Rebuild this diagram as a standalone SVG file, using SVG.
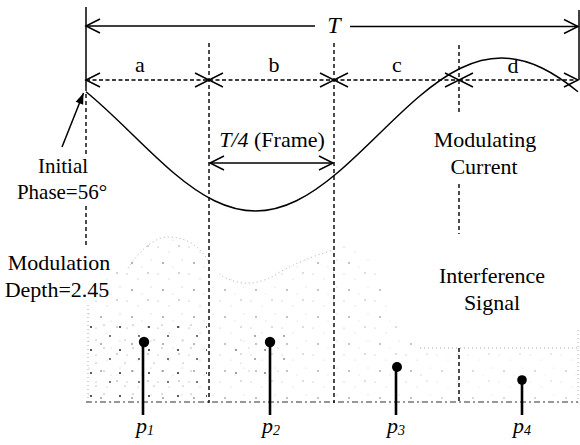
<svg xmlns="http://www.w3.org/2000/svg" width="580" height="445" viewBox="0 0 580 445">
<style>
text{font-family:"Liberation Serif","Times New Roman",serif;fill:#000}
.t{font-size:22px}
.s{font-size:21px}
.i{font-style:italic}
.dv{stroke:#000;stroke-width:1.4;stroke-dasharray:4 3;fill:none}
.dh{stroke:#000;stroke-width:1.3;stroke-dasharray:4 2.5;fill:none;marker-start:url(#oa);marker-end:url(#oa)}
.sol{stroke:#000;stroke-width:1.5;fill:none}
.env{stroke:#aaa;stroke-width:1;stroke-dasharray:1 3;fill:none}
.stem{stroke:#000;stroke-width:2.6}
</style>
<defs>
<marker id="oa" markerUnits="userSpaceOnUse" viewBox="-16 -9 18 18" refX="0" refY="0" markerWidth="18" markerHeight="18" orient="auto-start-reverse">
<path d="M-14,-7 L0,0 L-14,7" fill="none" stroke="#000" stroke-width="1.5" stroke-dasharray="none"/>
</marker>
<marker id="fa" markerUnits="userSpaceOnUse" viewBox="-12 -6 14 12" refX="0" refY="0" markerWidth="14" markerHeight="12" orient="auto">
<path d="M-11,-4 L0,0 L-11,4 Z" fill="#000" stroke="none"/>
</marker>
<pattern id="sp" width="31" height="27" patternUnits="userSpaceOnUse">
<circle cx="3" cy="4" r="0.6" fill="#999"/><circle cx="14" cy="9" r="0.5" fill="#aaa"/><circle cx="24" cy="3" r="0.7" fill="#888"/><circle cx="27" cy="17" r="0.5" fill="#aaa"/><circle cx="8" cy="20" r="0.8" fill="#555"/><circle cx="18" cy="24" r="0.5" fill="#bbb"/>
</pattern>
<pattern id="sp2" width="29" height="23" patternUnits="userSpaceOnUse">
<circle cx="4" cy="5" r="1" fill="#222"/><circle cx="17" cy="3" r="0.6" fill="#666"/><circle cx="23" cy="14" r="0.9" fill="#333"/><circle cx="9" cy="18" r="0.6" fill="#777"/>
</pattern>
</defs>
<rect width="580" height="445" fill="#fff"/>
<g id="interference-signal">
<path d="M88,403 L88,300 Q105,275 128,266 Q148,236 170,237 Q195,238 209,262 L209,403 Z" fill="url(#sp)"/>
<rect x="90" y="322" width="117" height="78" fill="url(#sp2)"/>
<path d="M211,403 L211,270 Q225,276 235,280 Q255,290 280,272 Q305,258 334,250 L334,403 Z" fill="url(#sp)" opacity="0.8"/>
<rect x="230" y="332" width="60" height="45" fill="url(#sp2)" opacity="0.6"/>
<path d="M336,403 L336,240 Q360,240 372,262 Q395,320 425,362 L425,403 Z" fill="url(#sp)" opacity="0.8"/>
<path d="M420,348 L578,348 L578,403 L420,403 Z" fill="url(#sp)" opacity="0.5"/>
<path class="env" d="M128,268 Q150,236 170,237 Q195,238 209,262"/>
<path class="env" d="M222,276 Q250,292 280,272 Q305,258 334,250"/>
<path class="env" d="M420,348 L578,348 M578,330 L578,403 M88,305 L88,403"/>
<path d="M86,402 L578,402" stroke="#333" stroke-width="1.2" stroke-dasharray="6 3 2 3" fill="none"/>
</g>
<g id="connectors">
<path class="sol" d="M86,7 L86,87"/>
<path class="sol" d="M579,10 L579,80"/>
<path class="dv" d="M86,87 L86,156 M86,206 L86,246"/>
<path class="dv" d="M209,43 L209,403"/>
<path class="dv" d="M334,43 L334,403"/>
<path class="dv" d="M459,45 L459,112 M459,184 L459,234 M459,348 L459,403"/>
<line x1="86" y1="26" x2="315" y2="26" class="sol" marker-start="url(#oa)"/>
<line x1="350" y1="26.5" x2="578" y2="26.5" class="sol" marker-end="url(#oa)"/>
<line x1="86" y1="80" x2="209" y2="80" class="dh"/>
<line x1="209" y1="80" x2="334" y2="80" class="dh"/>
<line x1="334" y1="80" x2="459" y2="80" class="dh"/>
<line x1="459" y1="80" x2="578" y2="80" class="dh"/>
<line x1="210" y1="163" x2="333" y2="163" class="sol" marker-start="url(#oa)" marker-end="url(#oa)"/>
<line x1="62" y1="147" x2="83.5" y2="93" class="sol" marker-end="url(#fa)"/>
</g>
<g id="modulating-current">
<path class="sol" stroke-width="1.6" d="M86,91.72 C101.49,104.27 116.98,119.37 132.47,134.5 C146.14,147.85 159.80,161.19 173.47,172.75 C187.14,184.31 200.80,194.07 214.47,200.75 C228.14,207.43 241.80,211 255.47,211 C269.14,211 282.80,207.43 296.47,200.75 C310.14,194.07 323.80,184.31 337.47,172.75 C351.14,161.19 364.80,147.85 378.47,134.5 C392.14,121.15 405.80,107.81 419.47,96.25 C433.14,84.69 446.80,74.93 460.47,68.25 C474.14,61.57 487.80,58 501.47,58 C515.14,58 528.80,61.57 542.47,68.25 C554.31,74.04 566.16,82.13 578,91.72"/>
</g>
<g id="labels">
<text x="334" y="33" class="i" font-size="24" text-anchor="middle">T</text>
<text x="140" y="72" class="t" text-anchor="middle">a</text>
<text x="274" y="72" class="t" text-anchor="middle">b</text>
<text x="397" y="72" class="t" text-anchor="middle">c</text>
<text x="513" y="73" class="t" text-anchor="middle">d</text>
<text x="272" y="147" class="t" text-anchor="middle"><tspan class="i">T/4</tspan> (Frame)</text>
<text x="63" y="173" class="s" text-anchor="middle">Initial</text>
<text x="62" y="199" class="s" text-anchor="middle">Phase=56°</text>
<text x="485" y="147" class="t" text-anchor="middle">Modulating</text>
<text x="484" y="174" class="t" text-anchor="middle">Current</text>
<text x="59" y="270" class="t" text-anchor="middle">Modulation</text>
<text x="57" y="297" class="t" text-anchor="middle">Depth=2.45</text>
<text x="492" y="283" class="t" text-anchor="middle">Interference</text>
<text x="492" y="310" class="t" text-anchor="middle">Signal</text>
</g>
<g id="p1"><line x1="143" y1="343" x2="143" y2="415" class="stem"/><circle cx="144" cy="342" r="5.2"/><text x="136" y="433" class="i" font-size="22">p<tspan font-size="14" dy="2">1</tspan></text></g>
<g id="p2"><line x1="270" y1="343" x2="270" y2="415" class="stem"/><circle cx="270" cy="342" r="5.2"/><text x="262" y="433" class="i" font-size="22">p<tspan font-size="14" dy="2">2</tspan></text></g>
<g id="p3"><line x1="396" y1="367" x2="396" y2="415" class="stem"/><circle cx="397" cy="367" r="5"/><text x="387" y="433" class="i" font-size="22">p<tspan font-size="14" dy="2">3</tspan></text></g>
<g id="p4"><line x1="522" y1="380" x2="522" y2="415" class="stem"/><circle cx="522" cy="380" r="4.8"/><text x="513" y="433" class="i" font-size="22">p<tspan font-size="14" dy="2">4</tspan></text></g>
</svg>
